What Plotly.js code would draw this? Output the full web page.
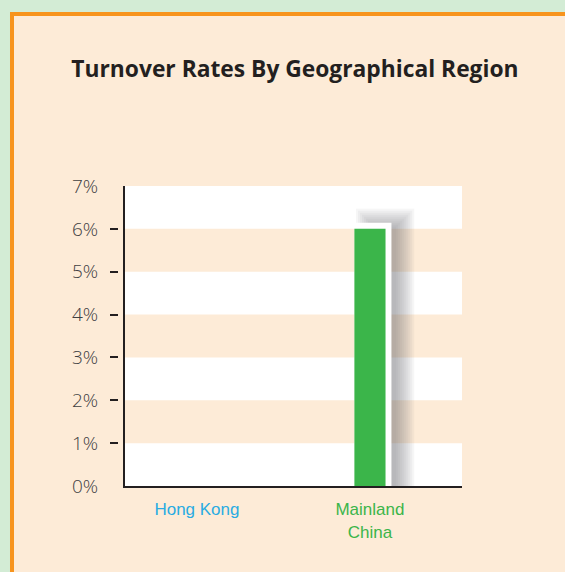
<!DOCTYPE html>
<html>
<head>
<meta charset="utf-8">
<script src="https://cdn.plot.ly/plotly-3.0.1.min.js"></script>
<style>html,body{margin:0;padding:0;background:#d3ecd5;}</style>
</head>
<body>
<div id="chart" style="width:565px;height:572px;"></div>
<script>
const categories = ["Hong Kong", "Mainland China"];
const categoryLabels = ['<span style="color:#29abe2">Hong Kong</span>', '<span style="color:#3bb54a">Mainland<br>China</span>'];
const turnoverRates = [0, 6];
const yTickVals = [0, 1, 2, 3, 4, 5, 6, 7];
const yTickText = ["0%", "1%", "2%", "3%", "4%", "5%", "6%", "7%"];

const traces = [];
// soft drop shadow layers behind the bars
const shadowWidths = [40, 36, 32, 28, 24, 20, 16, 12, 8, 4];
shadowWidths.forEach(w => {
  traces.push({
    type: 'bar', x: categories, y: turnoverRates,
    offset: 0.035, width: 0.105,
    marker: {color: '#6a6a70', opacity: 0.055,
      line: {color: '#6a6a70', width: turnoverRates.map(v => v > 0 ? w : 0)}},
    hoverinfo: 'skip', showlegend: false
  });
});
// white frame
traces.push({
  type: 'bar', x: categories, y: turnoverRates,
  offset: -0.055, width: 0.1445,
  marker: {color: '#ffffff', line: {color: '#ffffff', width: turnoverRates.map(v => v > 0 ? 12 : 0)}},
  hoverinfo: 'skip', showlegend: false
});
// main bars
traces.push({
  type: 'bar', x: categories, y: turnoverRates,
  offset: -0.09, width: 0.18,
  marker: {color: '#3bb54a', line: {width: 0}},
  showlegend: false
});

const shapes = [];
shapes.push({type: 'rect', xref: 'paper', yref: 'paper', x0: -0.2431, x1: 3, y0: -1, y1: 1.5733,
  fillcolor: '#fdebd7', line: {color: '#f7941d', width: 4}, layer: 'below'});
[0, 2, 4, 6].forEach(v => {
  shapes.push({type: 'rect', xref: 'x domain', yref: 'y', x0: 0, x1: 1, y0: v, y1: v + 1,
    fillcolor: '#ffffff', line: {width: 0}, layer: 'below'});
});

const layout = {
  width: 565, height: 572,
  margin: {l: 100, r: 103, t: 186, b: 86, pad: 0},
  paper_bgcolor: '#d3ecd5',
  plot_bgcolor: 'rgba(0,0,0,0)',
  barmode: 'overlay',
  title: {text: '<b>Turnover Rates By Geographical Region</b>', font: {family: 'Open Sans', size: 22.8, color: '#231f20'},
    xref: 'container', yref: 'container', x: 0.522, xanchor: 'center', y: 0.879, yanchor: 'middle'},
  xaxis: {
    domain: [0.069, 1], type: 'category', range: [-0.416, 1.532],
    tickvals: categories, ticktext: categoryLabels,
    showline: true, linecolor: '#231f20', linewidth: 2, ticks: '', showgrid: false, zeroline: false,
    tickfont: {family: 'Liberation Sans', size: 17}, ticklabelstandoff: 7
  },
  yaxis: {
    range: [0, 7], tickvals: yTickVals, ticktext: yTickText,
    showline: true, linecolor: '#231f20', linewidth: 2, ticks: '', showgrid: false, zeroline: false,
    tickfont: {family: 'Open Sans', size: 19, color: '#404042', weight: 300}, ticklabelstandoff: 21
  },
  yaxis2: {
    overlaying: 'y', anchor: 'free', position: 0.0497, side: 'left',
    range: [0, 7], tickvals: [1, 2, 3, 4, 5, 6], ticks: 'outside', ticklen: 8, tickwidth: 2, tickcolor: '#231f20',
    showticklabels: false, showline: false, showgrid: false, zeroline: false
  },
  yaxis3: {
    overlaying: 'y', anchor: 'x', side: 'left',
    range: [0, 7], tickvals: [7], ticks: 'inside', ticklen: 8, tickwidth: 2, tickcolor: '#231f20',
    showticklabels: false, showline: false, showgrid: false, zeroline: false
  },
  shapes: shapes
};
// invisible helper traces so the extra tick axes are drawn
traces.push({type: 'scatter', x: [categories[0]], y: [0], yaxis: 'y2', mode: 'markers', marker: {opacity: 0}, hoverinfo: 'skip', showlegend: false});
traces.push({type: 'scatter', x: [categories[0]], y: [0], yaxis: 'y3', mode: 'markers', marker: {opacity: 0}, hoverinfo: 'skip', showlegend: false});

Plotly.newPlot('chart', traces, layout, {displayModeBar: false, staticPlot: true});
</script>
</body>
</html>
